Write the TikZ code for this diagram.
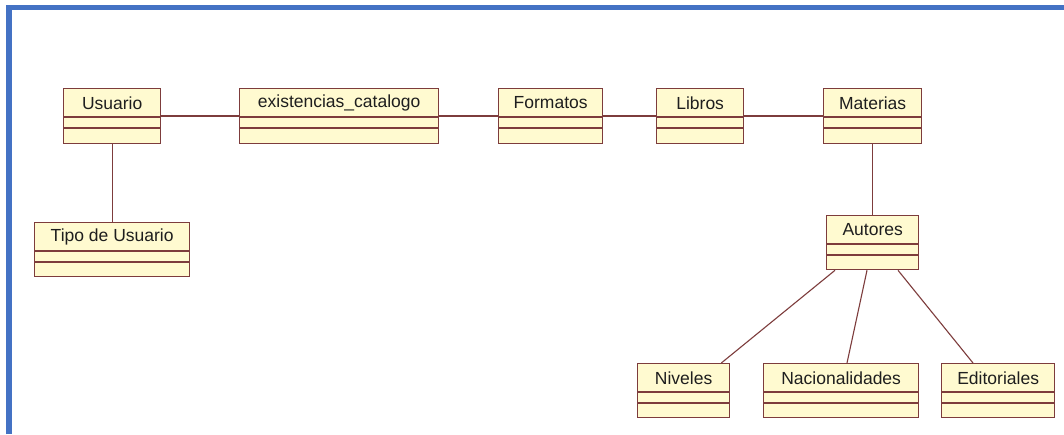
\documentclass[tikz,border=0pt]{standalone}
\usepackage{fontspec}
\setmainfont{Liberation Sans}
\definecolor{frameblue}{RGB}{68,114,196}
\definecolor{boxline}{RGB}{125,60,60}
\definecolor{boxfill}{RGB}{255,250,208}
\definecolor{txt}{RGB}{30,30,30}
\tikzset{
  umlbox/.style={draw=boxline, fill=boxfill, line width=1.3pt, rectangle, inner sep=0pt, anchor=north west},
  umlname/.style={font=\fontsize{17.5}{20}\selectfont, text=txt, inner sep=0pt},
  sepline/.style={draw=boxline, line width=1.3pt},
  assoc/.style={draw=boxline, line width=1.1pt},
}
% #1 node name, #2 text, #3 left, #4 top, #5 right, #6 bottom
\newcommand{\umlclass}[6]{%
  \pgfmathsetmacro{\uw}{#5-#3}%
  \pgfmathsetmacro{\uh}{#6-#4}%
  \node[umlbox, minimum width=\uw pt, minimum height=\uh pt] (#1) at (#3pt,-#4pt) {};
  \node[umlname] (#1-t) at ([yshift=-15pt]#1.north) {#2};
  \draw[sepline] ([yshift=-29pt]#1.north west) -- ([yshift=-29pt]#1.north east);
  \draw[sepline] ([yshift=-40pt]#1.north west) -- ([yshift=-40pt]#1.north east);
}
\begin{document}
\begin{tikzpicture}[x=1pt,y=1pt]
\useasboundingbox (0,0) rectangle (1064,-434);
\fill[white] (0,0) rectangle (1064,-434);
\draw[frameblue, line width=5.5pt] (9,-434) -- (9,-7.5) -- (1064,-7.5);

\umlclass{usuario}{Usuario}{63}{88}{160}{143}
\umlclass{exist}{existencias\_catalogo}{239}{88}{438}{143}
\umlclass{formatos}{Formatos}{498}{88}{602}{143}
\umlclass{libros}{Libros}{656}{88}{743}{143}
\umlclass{materias}{Materias}{823}{88}{921}{143}
\umlclass{tipo}{Tipo de Usuario}{34}{222}{189}{276}
\umlclass{autores}{Autores}{826}{215}{918}{269}
\umlclass{niveles}{Niveles}{637}{363}{729}{417}
\umlclass{nacion}{Nacionalidades}{763}{363}{918}{417}
\umlclass{editor}{Editoriales}{941}{363}{1054}{417}

\draw[assoc] ([yshift=-28pt]usuario.north east) -- ([yshift=-28pt]exist.north west);
\draw[assoc] ([yshift=-28pt]exist.north east) -- ([yshift=-28pt]formatos.north west);
\draw[assoc] ([yshift=-28pt]formatos.north east) -- ([yshift=-28pt]libros.north west);
\draw[assoc] ([yshift=-28pt]libros.north east) -- ([yshift=-28pt]materias.north west);
\draw[assoc] (usuario.south) -- (tipo.north);
\draw[assoc] (materias.south) -- (autores.north);
\draw[assoc] ([xshift=9pt]autores.south west) -- ([xshift=-9pt]niveles.north east);
\draw[assoc] ([xshift=41pt]autores.south west) -- ([xshift=84pt]nacion.north west);
\draw[assoc] ([xshift=72pt]autores.south west) -- ([xshift=32pt]editor.north west);
\end{tikzpicture}
\end{document}
